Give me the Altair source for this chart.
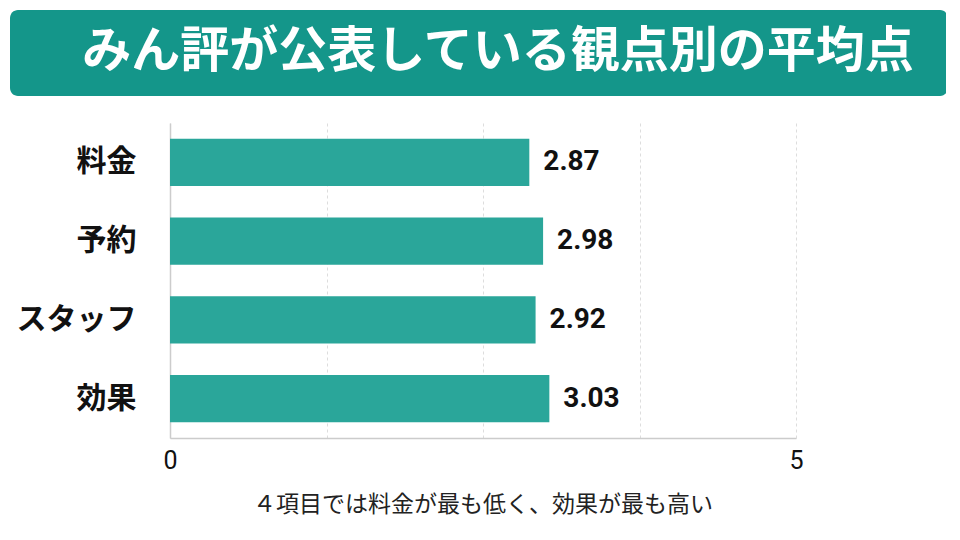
import altair as alt
import pandas as pd

# chart values
title_text = "みん評が公表している観点別の平均点"
caption_text = "４項目では料金が最も低く、効果が最も高い"
categories = ["料金", "予約", "スタッフ", "効果"]
scores = [2.87, 2.98, 2.92, 3.03]
x_ticks = [0, 1.25, 2.5, 3.75, 5]

source = pd.DataFrame({"category": categories, "score": scores})
header = pd.DataFrame({"title": [title_text], "caption": [caption_text]})

jp_font = "Noto Sans CJK JP"
num_font = "Roboto"

y_enc = alt.Y(
    "category:N", sort=categories, title=None,
    scale=alt.Scale(paddingInner=0.4, paddingOuter=0.2),
    axis=alt.Axis(labelFont=jp_font, labelFontSize=30, labelFontWeight="bold",
                  labelColor="#111111", labelPadding=34, ticks=False,
                  domainColor="#cccccc", domainWidth=1.5, grid=False),
)
x_enc = alt.X(
    "score:Q", title=None,
    scale=alt.Scale(domain=[0, 5], nice=False),
    axis=alt.Axis(values=x_ticks,
                  labelExpr="datum.value == 0 || datum.value == 5 ? format(datum.value, 'd') : ''",
                  labelFlush=False, labelOverlap=False,
                  grid=True, gridDash=[3, 3], gridColor="#dddddd", ticks=False,
                  domainColor="#cccccc", domainWidth=1.5,
                  labelFont=num_font, labelFontSize=25, labelColor="#111111",
                  labelPadding=10),
)

bars = alt.Chart(source).mark_bar(color="#2aa69a").encode(x=x_enc, y=y_enc)

values = alt.Chart(source).mark_text(
    align="left", dx=14, font=num_font, fontSize=28, fontWeight="bold", color="#111111"
).encode(x="score:Q", y=alt.Y("category:N", sort=categories), text=alt.Text("score:Q", format=".2f"))

# header banner
banner = alt.Chart(header).mark_rect(color="#14968a", cornerRadius=8).encode(
    x=alt.value(-160), x2=alt.value(778), y=alt.value(-113), y2=alt.value(-27)
)
title = alt.Chart(header).mark_text(
    font=jp_font, fontSize=49, fontWeight="bold", color="white", align="center", baseline="middle"
).encode(x=alt.value(328), y=alt.value(-71), text="title:N")

caption = alt.Chart(header).mark_text(
    font=jp_font, fontSize=23, color="#222222", align="center", baseline="middle"
).encode(x=alt.value(313), y=alt.value(382), text="caption:N")

chart = alt.layer(banner, title, bars, values, caption).properties(
    width=626, height=315,
    padding={"left": 162, "top": 115, "right": 150, "bottom": 90},
    autosize="none",
).configure_view(stroke=None)

chart.save("out.html", embed_options={"renderer": "svg", "actions": False})
